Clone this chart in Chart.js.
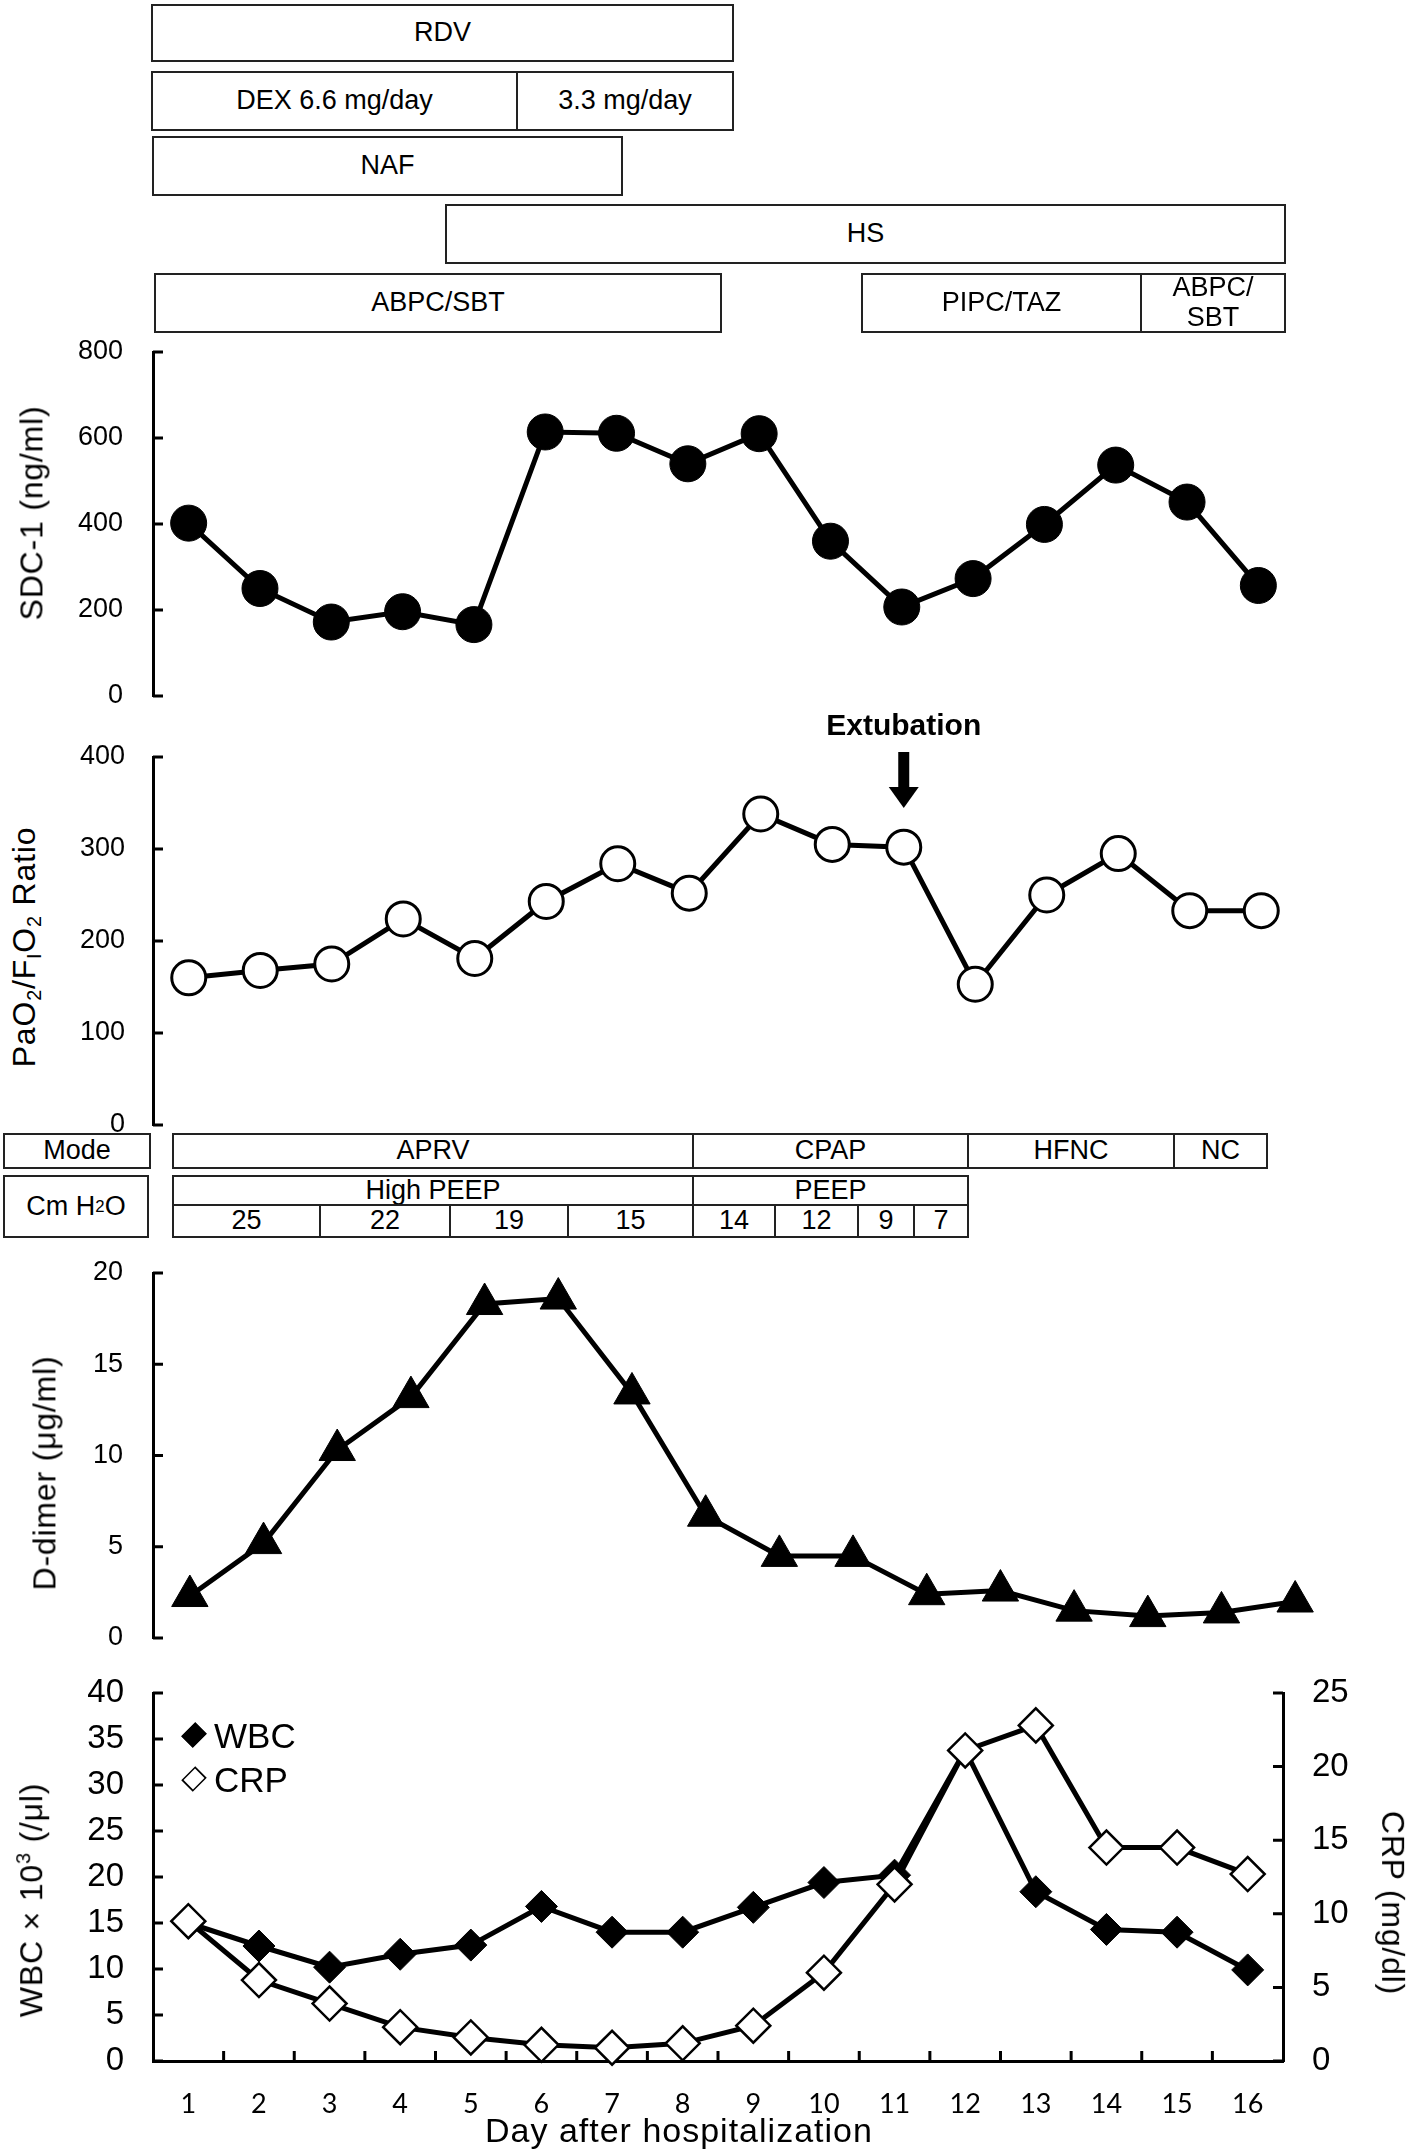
<!DOCTYPE html>
<html>
<head>
<meta charset="utf-8">
<script src="https://cdn.jsdelivr.net/npm/chart.js@4.4.1/dist/chart.umd.min.js"></script>
<style>
  html, body { margin: 0; padding: 0; background: #fff; }
  #page { position: relative; width: 1418px; height: 2154px; overflow: hidden;
          font-family: "Liberation Sans", Arial, sans-serif; color: #000; }
  canvas { position: absolute; left: 0; }
  #pfChart { z-index: 4; }
  .box { position: absolute; box-sizing: border-box; border: 2px solid #222; background: #fff;
         display: flex; align-items: center; justify-content: center; text-align: center;
         font-size: 27px; line-height: 1.1; z-index: 2; }
  .title { position: absolute; white-space: nowrap; font-size: 32px; letter-spacing: 0.8px;
           line-height: 1; z-index: 3; }
  .legend { position: absolute; font-size: 35px; line-height: 1; z-index: 3; }
  .dia { position: absolute; width: 22px; height: 22px; box-sizing: border-box;
         border: 2px solid #000; transform: rotate(45deg) scale(0.74, 0.9); z-index: 3; }
  sub { font-size: 0.62em; vertical-align: -0.3em; line-height: 0; }
  sup { font-size: 0.62em; vertical-align: 0.6em; line-height: 0; }
</style>
</head>
<body>
<div id="page">
  <canvas id="sdcChart" width="1418" height="444" style="top:302px"></canvas>
  <canvas id="pfChart" width="1418" height="475" style="top:700px"></canvas>
  <canvas id="ddChart" width="1418" height="465" style="top:1223px"></canvas>
  <canvas id="labChart" width="1418" height="511" style="top:1643px"></canvas>
</div>
<script>
// Day labels
const days = ['1', '2', '3', '4', '5', '6', '7', '8', '9', '10', '11', '12', '13', '14', '15', '16'];

// Series
const sdc1 = [402, 250, 172, 196, 166, 614, 611, 540, 610, 360, 207, 273, 399, 537, 451, 257];
const pfRatio = [160, 168, 175, 224, 181, 243, 284, 252, 338, 305, 302, 153, 250, 295, 233, 233];
const dDimer = [2.3, 5.2, 10.3, 13.2, 18.3, 18.6, 13.4, 6.7, 4.5, 4.5, 2.4, 2.6, 1.5, 1.2, 1.4, 2.0];
const wbc = [15, 12.5, 10.2, 11.6, 12.6, 16.8, 14.0, 14.0, 16.7, 19.4, 20.2, 33.8, 18.4, 14.3, 14.0, 9.9];
const crp = [9.5, 5.5, 3.9, 2.3, 1.6, 1.1, 0.9, 1.2, 2.4, 6.0, 12.0, 21.1, 22.8, 14.5, 14.5, 12.7];

// Axis ranges [min, max, step]
const sdcTicks = [0, 800, 200];
const pfTicks = [0, 400, 100];
const ddTicks = [0, 20, 5];
const wbcTicks = [0, 40, 5];
const crpTicks = [0, 25, 5];

// Treatment bars above the charts
const therapyRows = [[4, 62], [71, 131], [136, 196], [204, 264], [273, 333]];
const therapyBoxes = [
    ['RDV', 0, 151, 734],
    ['DEX 6.6 mg/day', 1, 151, 518],
    ['3.3 mg/day', 1, 516, 734],
    ['NAF', 2, 152, 623],
    ['HS', 3, 445, 1286],
    ['ABPC/SBT', 4, 154, 722],
    ['PIPC/TAZ', 4, 861, 1142],
    ['ABPC/<br>SBT', 4, 1140, 1286]
];

// Ventilation table
const ventRows = [[1133, 1169], [1175, 1206], [1204, 1238], [1175, 1238]];
const ventCells = [
    ['Mode', 0, 3, 151],
    ['Cm H<sub>2</sub>O', 3, 3, 149],
    ['APRV', 0, 172, 694], ['CPAP', 0, 692, 969], ['HFNC', 0, 967, 1175], ['NC', 0, 1173, 1268],
    ['High PEEP', 1, 172, 694], ['PEEP', 1, 692, 969],
    ['25', 2, 172, 321], ['22', 2, 319, 451], ['19', 2, 449, 569], ['15', 2, 567, 694],
    ['14', 2, 692, 776], ['12', 2, 774, 859], ['9', 2, 857, 915], ['7', 2, 913, 969]
];

const page = document.getElementById('page');

function addBox(html, top, bottom, x0, x1, size) {
    const d = document.createElement('div');
    d.className = 'box';
    d.innerHTML = html;
    d.style.left = x0 + 'px';
    d.style.width = (x1 - x0) + 'px';
    d.style.top = top + 'px';
    d.style.height = (bottom - top) + 'px';
    if (size) d.style.fontSize = size + 'px';
    page.appendChild(d);
}

therapyBoxes.forEach(b => addBox(b[0], therapyRows[b[1]][0], therapyRows[b[1]][1], b[2], b[3]));
ventCells.forEach(c => addBox(c[0], ventRows[c[1]][0], ventRows[c[1]][1], c[2], c[3], 27));

function addTitle(html, cx, cy, rot, size, spacing) {
    const d = document.createElement('div');
    d.className = 'title';
    d.innerHTML = html;
    if (size) d.style.fontSize = size + 'px';
    if (spacing !== undefined) d.style.letterSpacing = spacing + 'px';
    page.appendChild(d);
    const w = d.offsetWidth, h = d.offsetHeight;
    d.style.left = (cx - w / 2) + 'px';
    d.style.top = (cy - h / 2) + 'px';
    if (rot) d.style.transform = 'rotate(' + rot + 'deg)';
}

addTitle('SDC-1 (ng/ml)', 31, 513, -90);
addTitle('PaO<sub>2</sub>/F<sub>I</sub>O<sub>2</sub> Ratio', 24, 947, -90);
addTitle('D-dimer (μg/ml)', 44, 1473, -90);
addTitle('WBC × 10<sup>3</sup> (/μl)', 31, 1900, -90);
addTitle('CRP (mg/dl)', 1393, 1903, 90);
addTitle('Day after hospitalization', 679, 2130, 0, 34, 1);

// legend of the lower chart
function addLegend(label, filled, cy) {
    const m = document.createElement('div');
    m.className = 'dia';
    m.style.left = (194 - 11) + 'px';
    m.style.top = (cy - 11) + 'px';
    m.style.background = filled ? '#000' : '#fff';
    page.appendChild(m);
    const t = document.createElement('div');
    t.className = 'legend';
    t.textContent = label;
    page.appendChild(t);
    t.style.left = '214px';
    t.style.top = (cy - t.offsetHeight / 2) + 'px';
}
addLegend('WBC', true, 1735);
addLegend('CRP', false, 1779);

Chart.defaults.font.family = '"Liberation Sans", Arial, sans-serif';
Chart.defaults.color = '#000';

// short tick marks pointing into the plot
const inwardTicks = {
    id: 'inwardTicks',
    beforeDatasetsDraw(chart, args, opts) {
        const ctx = chart.ctx;
        ctx.save();
        ctx.strokeStyle = '#000';
        ctx.lineWidth = 3;
        (opts.sides || []).forEach(([id, side]) => {
            const s = chart.scales[id];
            ctx.beginPath();
            if (side === 'left' || side === 'right') {
                const x = side === 'left' ? s.right : s.left;
                const dir = side === 'left' ? 1 : -1;
                s.ticks.forEach((t, i) => {
                    const y = s.getPixelForTick(i);
                    ctx.moveTo(x, y);
                    ctx.lineTo(x + dir * 10, y);
                });
            } else {
                for (let i = 1; i < s.ticks.length; i++) {
                    const x = (s.getPixelForTick(i - 1) + s.getPixelForTick(i)) / 2;
                    ctx.moveTo(x, s.top);
                    ctx.lineTo(x, s.top - 10);
                }
            }
            ctx.stroke();
        });
        ctx.restore();
    }
};

// extubation marker above day 11
const extubation = {
    id: 'extubation',
    afterDraw(chart) {
        const ctx = chart.ctx;
        const x = chart.scales.x.getPixelForValue(10);
        ctx.save();
        ctx.fillStyle = '#000';
        ctx.font = 'bold 30px "Liberation Sans", Arial, sans-serif';
        ctx.textAlign = 'center';
        ctx.textBaseline = 'middle';
        ctx.fillText('Extubation', x, 27);
        ctx.fillRect(x - 5.5, 52, 11, 38);
        ctx.beginPath();
        ctx.moveTo(x - 15, 87);
        ctx.lineTo(x + 15, 87);
        ctx.lineTo(x, 108);
        ctx.closePath();
        ctx.fill();
        ctx.restore();
    }
};

function yAxis(range, side, width, font, pad) {
    return {
        position: side,
        min: range[0],
        max: range[1],
        afterFit: s => { s.width = width; },
        grid: { display: false, drawTicks: false },
        border: { display: true, color: '#000', width: 3 },
        ticks: { stepSize: range[2], padding: pad, font: font, color: '#000' }
    };
}

function hiddenX() {
    return { type: 'category', offset: true, display: false };
}

function lineSet(data, style, radius, fill, bw) {
    return {
        data: data,
        borderColor: '#000',
        borderWidth: 5,
        tension: 0,
        clip: false,
        pointStyle: style,
        pointRadius: radius,
        pointBackgroundColor: fill,
        pointBorderColor: '#000',
        pointBorderWidth: bw
    };
}

function baseOpts(pad, scales, ticks) {
    return {
        responsive: false,
        animation: false,
        events: [],
        layout: { padding: pad, autoPadding: false },
        plugins: { legend: { display: false }, tooltip: { enabled: false }, inwardTicks: { sides: ticks } },
        scales: scales
    };
}

// nudge layout padding until the plot area sits where the figure has it
function pinArea(chart, top, bottom, right) {
    for (let k = 0; k < 3; k++) {
        const a = chart.chartArea;
        const p = chart.config.options.layout.padding;
        const dt = top - a.top, db = a.bottom - bottom, dr = a.right - right;
        if (Math.abs(dt) < 0.5 && Math.abs(db) < 0.5 && Math.abs(dr) < 0.5) break;
        p.top += dt;
        p.bottom += db;
        p.right += dr;
        chart.update();
    }
}

const sdcChart = new Chart(document.getElementById('sdcChart'), {
    type: 'line',
    data: { labels: days, datasets: [lineSet(sdc1, 'circle', 18, '#000', 1)] },
    options: baseOpts({ top: 50, bottom: 50, left: 0, right: 124 },
        { x: hiddenX(), y: yAxis(sdcTicks, 'left', 153, { size: 27 }, 30) }, [['y', 'left']]),
    plugins: [inwardTicks]
});
pinArea(sdcChart, 50, 394, 1294);

const pfChart = new Chart(document.getElementById('pfChart'), {
    type: 'line',
    data: { labels: days, datasets: [lineSet(pfRatio, 'circle', 17, '#fff', 3)] },
    options: baseOpts({ top: 57, bottom: 50, left: 0, right: 121 },
        { x: hiddenX(), y: yAxis(pfTicks, 'left', 153, { size: 27 }, 28) }, [['y', 'left']]),
    plugins: [inwardTicks, extubation]
});
pinArea(pfChart, 57, 425, 1297);

const ddChart = new Chart(document.getElementById('ddChart'), {
    type: 'line',
    data: { labels: days, datasets: [lineSet(dDimer, 'triangle', 21, '#000', 1)] },
    options: baseOpts({ top: 50, bottom: 50, left: 0, right: 86 },
        { x: hiddenX(), y: yAxis(ddTicks, 'left', 153, { size: 27 }, 30) }, [['y', 'left']]),
    plugins: [inwardTicks]
});
pinArea(ddChart, 50, 415, 1332);

const labChart = new Chart(document.getElementById('labChart'), {
    type: 'line',
    data: {
        labels: days,
        datasets: [
            Object.assign(lineSet(crp, 'rectRot', 17, '#fff', 2.5), { yAxisID: 'y1', label: 'CRP' }),
            Object.assign(lineSet(wbc, 'rectRot', 16, '#000', 1), { yAxisID: 'y', label: 'WBC' })
        ]
    },
    options: baseOpts({ top: 50, bottom: 0, left: 0, right: 0 }, {
        x: {
            type: 'category',
            offset: true,
            afterFit: s => { s.height = 93; },
            grid: { display: false, drawTicks: false },
            border: { display: true, color: '#000', width: 3 },
            ticks: { padding: 27, font: { family: 'Lato, "Open Sans", sans-serif', size: 27 }, color: '#000', maxRotation: 0 }
        },
        y: yAxis(wbcTicks, 'left', 153, { size: 33 }, 29),
        y1: yAxis(crpTicks, 'right', 135, { size: 33 }, 29)
    }, [['y', 'left'], ['y1', 'right'], ['x', 'bottom']]),
    plugins: [inwardTicks]
});
pinArea(labChart, 50, 418, 1283);
</script>
</body>
</html>
